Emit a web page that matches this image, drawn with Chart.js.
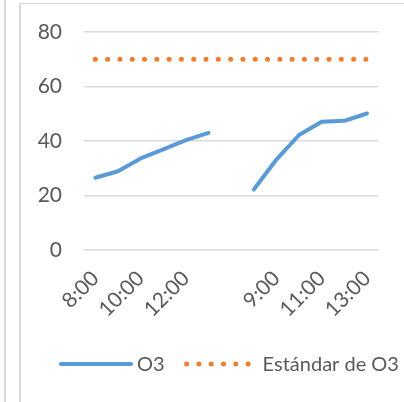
<!DOCTYPE html>
<html>
<head>
<meta charset="utf-8">
<script src="https://cdn.jsdelivr.net/npm/chart.js@4"></script>
<style>
  html, body { margin: 0; padding: 0; background: #fff; }
  body { width: 404px; height: 402px; position: relative; overflow: hidden; }
  .vl1 { position: absolute; left: 4px; top: 0; width: 1.5px; height: 402px; background: #d9d9d9; }
  .vl2 { position: absolute; left: 19px; top: 3px; width: 1.5px; height: 399px; background: #d9d9d9; }
  .hl { position: absolute; left: 19px; top: 3px; width: 385px; height: 1.2px; background: #d9d9d9; }
  #wrap { position: absolute; left: 21px; top: 4px; width: 383px; height: 398px; }
</style>
</head>
<body>
<div class="vl1"></div><div class="vl2"></div><div class="hl"></div>
<div id="wrap"><canvas id="c"></canvas></div>
<script>
const categories = ['8:00','9:00','10:00','11:00','12:00','13:00','','8:00','9:00','10:00','11:00','12:00','13:00'];
const o3Values = [26.5, 28.9, 33.6, 36.9, 40.3, 43.0, null, 22.2, 33.2, 42.2, 47.1, 47.4, 50.1];
const standardValues = [70, 70, 70, 70, 70, 70, 70, 70, 70, 70, 70, 70, 70];
const yTicks = [0, 20, 40, 60, 80];

const FONT = 'Lato, "Open Sans", sans-serif';
const TXT = '#595959';

// Legend drawn by a small plugin from the datasets' own labels and styles
const lineLegend = {
  id: 'lineLegend',
  afterDraw(chart) {
    const ctx = chart.ctx;
    const y = 360;
    let x = 40;
    const boxW = 70;
    ctx.save();
    ctx.font = '20px ' + FONT;
    ctx.textBaseline = 'middle';
    chart.data.datasets.forEach(ds => {
      ctx.beginPath();
      ctx.strokeStyle = ds.borderColor;
      ctx.lineWidth = ds.borderWidth;
      ctx.lineCap = ds.borderCapStyle || 'butt';
      ctx.setLineDash(ds.borderDash || []);
      ctx.moveTo(x, y);
      ctx.lineTo(x + boxW, y);
      ctx.stroke();
      ctx.setLineDash([]);
      ctx.fillStyle = TXT;
      ctx.fillText(ds.label, x + boxW + 6, y + 1);
      x += boxW + 6 + ctx.measureText(ds.label).width + 22;
    });
    ctx.restore();
  }
};

const zeroPad = s => { s.paddingTop = 0; s.paddingBottom = 0; s.paddingLeft = 0; s.paddingRight = 0; };

new Chart(document.getElementById('c'), {
  type: 'line',
  data: {
    labels: categories,
    datasets: [
      {
        label: 'O3',
        data: o3Values,
        borderColor: '#5B9BD5',
        backgroundColor: '#5B9BD5',
        borderWidth: 4,
        pointRadius: 0,
        borderJoinStyle: 'round',
        borderCapStyle: 'round',
        spanGaps: false,
        tension: 0
      },
      {
        label: 'Estándar de O3',
        data: standardValues,
        borderColor: '#ED7D31',
        backgroundColor: '#ED7D31',
        borderWidth: 5,
        borderDash: [0, 12.3],
        borderCapStyle: 'round',
        pointRadius: 0,
        tension: 0
      }
    ]
  },
  plugins: [lineLegend],
  options: {
    responsive: true,
    maintainAspectRatio: false,
    animation: false,
    layout: { padding: { top: 28, right: 25.7, bottom: 68, left: 0 } },
    plugins: {
      tooltip: { enabled: false },
      legend: { display: false }
    },
    scales: {
      x: {
        offset: true,
        grid: { display: false, drawTicks: false },
        border: { display: false },
        afterFit: s => { s.height = 84; zeroPad(s); },
        ticks: {
          autoSkip: false,
          maxRotation: 45,
          minRotation: 45,
          padding: 16,
          color: TXT,
          font: { family: FONT, size: 21 },
          callback: function (v, i) { return i % 2 === 0 ? categories[i] : ''; }
        }
      },
      y: {
        min: 0,
        max: 80,
        afterFit: s => { s.width = 63; zeroPad(s); },
        afterBuildTicks: s => { s.ticks = yTicks.map(v => ({ value: v })); },
        grid: { color: '#d9d9d9', lineWidth: 1.4, drawTicks: false },
        border: { display: false },
        ticks: {
          padding: 22,
          color: TXT,
          font: { family: FONT, size: 21 }
        }
      }
    }
  }
});
</script>
</body>
</html>
